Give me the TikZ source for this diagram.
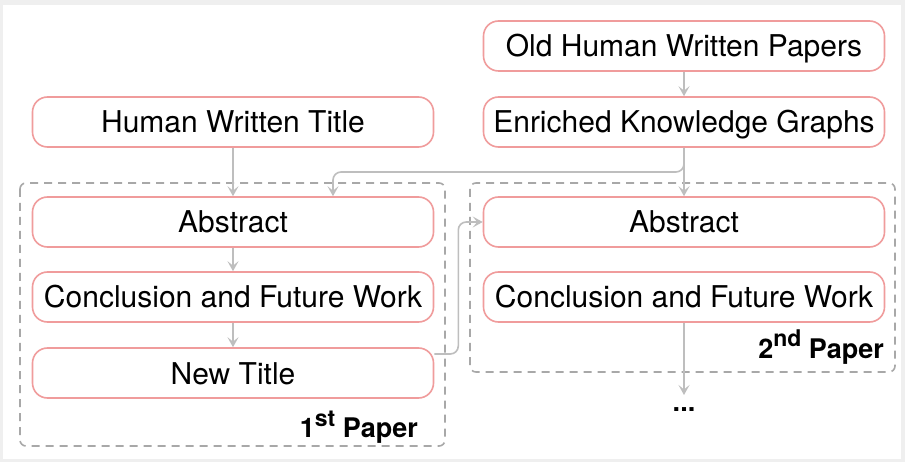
\documentclass[tikz,border=0pt]{standalone}
\usepackage{fontspec}
\setmainfont{TeX Gyre Heros}
\usetikzlibrary{arrows.meta}
\definecolor{boxred}{HTML}{F09C9C}
\definecolor{arrgray}{HTML}{BEBEBE}
\definecolor{dashgray}{HTML}{A8A8A8}
\definecolor{bggray}{HTML}{EFEFEF}
\newcommand{\supr}[1]{\raisebox{11pt}{\fontsize{23}{26}\selectfont #1}}
\tikzset{
  stepbox/.style={draw=boxred, line width=1.6pt, rounded corners=15pt, fill=white,
    minimum width=401pt, minimum height=50pt, inner sep=0pt,
    text height=22pt, text depth=0pt,
    font=\fontsize{30}{34}\selectfont},
  conn/.style={draw=arrgray, line width=1.6pt, rounded corners=8pt,
    -{Stealth[length=10pt,width=11pt,inset=4.5pt]}},
  paperbox/.style={draw=dashgray, line width=1.6pt, dash pattern=on 8pt off 6pt, rounded corners=6pt},
  paperlabel/.style={font=\fontsize{27}{32}\selectfont\bfseries, inner sep=0pt}
}
\begin{document}
\begin{tikzpicture}[x=1pt,y=-1pt]
\fill[bggray] (0,0) rectangle (905,462);
\fill[white] (3,5) rectangle (901,459);
\useasboundingbox (0,0) rectangle (905,462);

\draw[paperbox] (20,183) rectangle (445,446);
\draw[paperbox] (470,183) rectangle (895,372);

\node[stepbox] (old) at (684,46) {Old Human Written Papers};
\node[stepbox] (ekg) at (684,122) {Enriched Knowledge Graphs};
\node[stepbox] (hwt) at (233,122) {Human Written Title};
\node[stepbox] (absL) at (233,222) {Abstract};
\node[stepbox] (concL) at (233,297) {Conclusion and Future Work};
\node[stepbox] (newt) at (233,373) {New Title};
\node[stepbox] (absR) at (684,222) {Abstract};
\node[stepbox] (concR) at (684,297) {Conclusion and Future Work};

\node[paperlabel, anchor=base east] (p1) at (418,437) {1\supr{st} Paper};
\node[paperlabel, anchor=base east] (p2) at (884,358) {2\supr{nd} Paper};
\node[paperlabel, anchor=base] (dots) at (684,411) {...};
\coordinate (dotsarrow) at (684,395);

\draw[conn] (old) -- (ekg);
\draw[conn] (ekg) -- (absR);
\draw[conn] (hwt) -- (absL);
\draw[conn] (absL) -- (concL);
\draw[conn] (concL) -- (newt);
\draw[conn] (ekg.south) |- (508,172) -| (absL.north -| 333,0);
\draw[conn] ([yshift=19pt]newt.east) -- ++(24,0) |- (absR.west);
\draw[conn] (concR) -- (dotsarrow);
\end{tikzpicture}
\end{document}
